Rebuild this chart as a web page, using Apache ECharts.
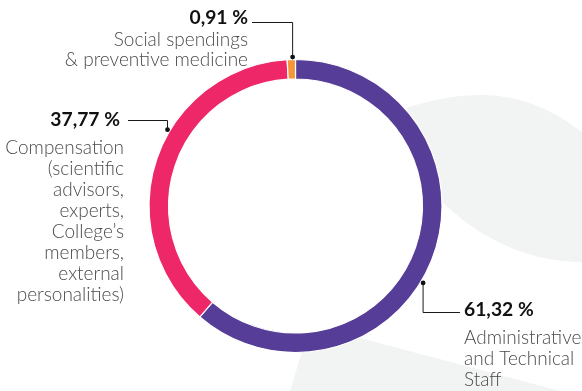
<!DOCTYPE html>
<html>
<head>
<meta charset="utf-8">
<script src="https://cdn.jsdelivr.net/npm/echarts@6/dist/echarts.min.js"></script>
<style>
  html, body { margin: 0; padding: 0; background: #ffffff; }
  #chart { width: 582px; height: 391px; }
</style>
</head>
<body>
<div id="chart"></div>
<script>
// Budget breakdown (shares in %)
const categories = [
  'Administrative\nand Technical\nStaff',
  'Compensation\n(scientific\nadvisors,\nexperts,\nCollege’s\nmembers,\nexternal\npersonalities)',
  'Social spendings\n& preventive medicine'
];
const shares = [61.32, 37.77, 0.91];
const sliceColors = ['#563d97', '#ee2768', '#f5963a'];

// Ring geometry (px)
const CX = 295.5, CY = 206, R_IN = 127, R_OUT = 146.5, R_DOT = 149;

// Callout layout per slice: anchor angle (deg, clockwise from 12 o'clock),
// elbow line height, end of the horizontal leg, label block origin.
const callouts = [
  { angle: 121.1, elbowY: 312.5, endX: 460, x: 464, y: 292.5, align: 'left' },
  { angle: 300.8, elbowY: 120.5, endX: 128, x: 124, y: 102.5, align: 'right' },
  { angle: 358.9, elbowY: 22.5, endX: 252, x: 248, y: 5.3, align: 'right' }
];

function anchorPoint(angleDeg) {
  const a = angleDeg * Math.PI / 180;
  return [CX + R_DOT * Math.sin(a), CY - R_DOT * Math.cos(a)];
}

function fmtShare(v) {
  return v.toFixed(2).replace('.', ',') + ' %';
}

// Sample a chain of cubic Bézier segments into polygon points
function bezierChain(start, segs, steps) {
  const pts = [start];
  let p0 = start;
  segs.forEach(function (s) {
    if (s.length === 1) { pts.push(s[0]); p0 = s[0]; return; }
    const [c1, c2, p3] = s;
    for (let i = 1; i <= steps; i++) {
      const t = i / steps, u = 1 - t;
      pts.push([
        u * u * u * p0[0] + 3 * u * u * t * c1[0] + 3 * u * t * t * c2[0] + t * t * t * p3[0],
        u * u * u * p0[1] + 3 * u * u * t * c1[1] + 3 * u * t * t * c2[1] + t * t * t * p3[1]
      ]);
    }
    p0 = p3;
  });
  return pts;
}

const leafShape = bezierChain([398, 118], [
  [[407, 108]],
  [[432, 99], [458, 95], [484, 95]],
  [[522, 96], [560, 110], [600, 148]],
  [[600, 262]],
  [[582, 262]],
  [[530, 262], [480, 240], [438, 198]]
], 24);

const floorShape = [[303, 348], [345, 334], [560, 391], [290, 391]];

const chart = echarts.init(document.getElementById('chart'), null, { renderer: 'canvas' });

const graphics = [
  { type: 'polygon', z: 0, silent: true, shape: { points: leafShape }, style: { fill: '#f2f3f3' } },
  { type: 'polygon', z: 0, silent: true, shape: { points: floorShape }, style: { fill: '#f2f3f3' } }
];
callouts.forEach(function (c) {
  const p = anchorPoint(c.angle);
  graphics.push({
    type: 'circle', z: 100, silent: true,
    shape: { cx: p[0], cy: p[1], r: 2.4 },
    style: { fill: '#111111' }
  });
});

const nameStyle = {
  fontFamily: 'Lato', fontWeight: 300, fontSize: 19, color: '#4a4a4a', lineHeight: 21
};
const valueStyle = {
  fontFamily: 'Lato', fontWeight: 'bold', fontSize: 19.3, color: '#111111', lineHeight: 35
};

const pieData = categories.map(function (name, i) {
  const item = { name: name, value: shares[i], itemStyle: { color: sliceColors[i] } };
  if (i === 1) {
    item.label = {
      rich: { v: Object.assign({}, valueStyle, { padding: [0, 4, 0, 0] }) }
    };
  }
  if (i === 2) {
    item.label = {
      rich: {
        v: Object.assign({}, valueStyle, { lineHeight: 24.6 }),
        n: Object.assign({}, nameStyle, { lineHeight: 20 })
      }
    };
  }
  return item;
});

chart.setOption({
  animation: false,
  backgroundColor: '#ffffff',
  graphic: graphics,
  series: [{
    type: 'pie',
    z: 2,
    silent: true,
    center: [CX, CY],
    radius: [R_IN, R_OUT],
    startAngle: 90,
    clockwise: true,
    avoidLabelOverlap: false,
    itemStyle: { borderColor: '#ffffff', borderWidth: 1.2 },
    label: {
      show: true,
      position: 'outside',
      formatter: function (p) {
        const lines = p.name.split('\n').map(function (l) { return '{n|' + l + '}'; });
        return '{v|' + fmtShare(p.value) + '}\n' + lines.join('\n');
      },
      rich: { v: valueStyle, n: nameStyle }
    },
    labelLine: {
      show: true,
      lineStyle: { color: '#1a1a1a', width: 1 }
    },
    labelLayout: function (params) {
      const c = callouts[params.dataIndex];
      const p0 = anchorPoint(c.angle);
      return {
        x: c.x,
        y: c.y,
        align: c.align,
        verticalAlign: 'top',
        labelLinePoints: [p0, [p0[0], c.elbowY], [c.endX, c.elbowY]]
      };
    },
    data: pieData
  }]
});
</script>
</body>
</html>
